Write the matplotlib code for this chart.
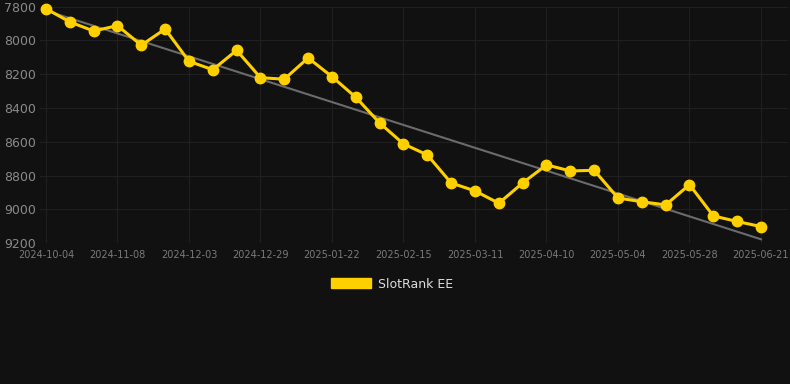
import numpy as np
import matplotlib
matplotlib.use("Agg")
import matplotlib.pyplot as plt
from matplotlib.patches import Patch

# chart data
dates = ["2024-10-04", "2024-10-16", "2024-10-28", "2024-11-08", "2024-11-16",
         "2024-11-24", "2024-12-03", "2024-12-12", "2024-12-20", "2024-12-29",
         "2025-01-06", "2025-01-14", "2025-01-22", "2025-01-30", "2025-02-07",
         "2025-02-15", "2025-02-23", "2025-03-03", "2025-03-11", "2025-03-21",
         "2025-03-31", "2025-04-10", "2025-04-18", "2025-04-26", "2025-05-04",
         "2025-05-12", "2025-05-20", "2025-05-28", "2025-06-05", "2025-06-13",
         "2025-06-21"]
ranks = [7812, 7890, 7944, 7912, 8028, 7932, 8123, 8173, 8058, 8220,
         8229, 8103, 8214, 8336, 8488, 8612, 8677, 8843, 8890, 8963,
         8843, 8736, 8772, 8768, 8932, 8954, 8973, 8853, 9038, 9071, 9101]
y_ticks = [7800, 8000, 8200, 8400, 8600, 8800, 9000, 9200]
series_name = "SlotRank EE"

bg = "#111111"
yellow = "#FFD000"

x = np.arange(len(ranks))
# linear trend
k, b = np.polyfit(x, ranks, 1)
trend = k * x + b

fig = plt.figure(figsize=(7.9, 3.84), dpi=100, facecolor=bg)
ax = fig.add_axes([40 / 790, 1 - 243.3 / 384, 748 / 790, (243.3 - 6.7) / 384])
ax.set_facecolor(bg)

ax.plot(x, trend, color="#6b6b6b", linewidth=1.5, zorder=2)
ax.plot(x, ranks, color=yellow, linewidth=2.2, marker="o", markersize=7.5,
        zorder=3, clip_on=False)

ax.set_ylim(9200, 7800)
ax.set_xlim(-0.25, 30 + 27 / 23.83)
ax.set_yticks(y_ticks)
ax.set_yticklabels([str(v) for v in y_ticks])
tick_idx = list(range(0, len(dates), 3))
ax.set_xticks(tick_idx)
ax.set_xticklabels([dates[i] for i in tick_idx])

ax.grid(True, color="#202020", linewidth=0.8)
ax.set_axisbelow(True)
for s in ax.spines.values():
    s.set_visible(False)
ax.tick_params(axis="both", length=0)
ax.tick_params(axis="y", labelsize=9, labelcolor="#8a8a8a", pad=3)
ax.tick_params(axis="x", labelsize=7, labelcolor="#7a7a7a", pad=5)

leg = fig.legend(handles=[Patch(facecolor=yellow, edgecolor=yellow, label=series_name)],
                 loc="center", bbox_to_anchor=(392 / 790, 1 - 284 / 384),
                 frameon=False, fontsize=9, handlelength=3.2, handleheight=0.9,
                 handletextpad=0.6)
for t in leg.get_texts():
    t.set_color("#dddddd")

fig.savefig("out.png", dpi=100, facecolor=bg)
